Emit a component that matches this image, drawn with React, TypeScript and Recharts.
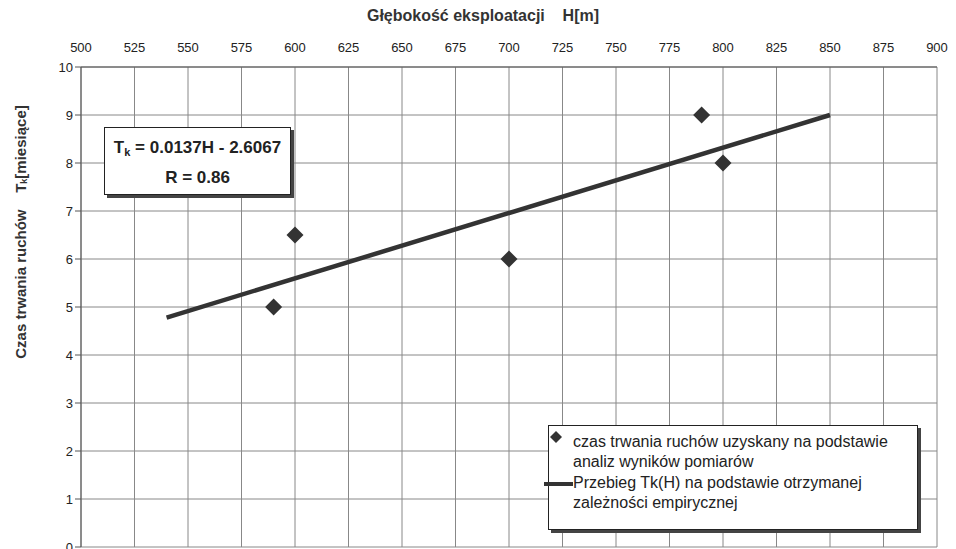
import { CartesianGrid, Legend, Scatter, ScatterChart, XAxis, YAxis } from "recharts";

// measured points: depth H [m] vs duration Tk [months]
const depth = [590, 600, 700, 790, 800];
const duration = [5, 6.5, 6, 9, 8];

// ends of the fitted line Tk = 0.0137H - 2.6067
const fitDepth = [540, 850];
const fitDuration = [4.78, 9.0];

const xTicks = [500, 525, 550, 575, 600, 625, 650, 675, 700, 725, 750, 775, 800, 825, 850, 875, 900];
const yTicks = [0, 1, 2, 3, 4, 5, 6, 7, 8, 9, 10];

const measured = depth.map((h, i) => ({ H: h, T: duration[i] }));
const fitLine = fitDepth.map((h, i) => ({ H: h, T: fitDuration[i] }));

const font = "'Liberation Sans', Arial, sans-serif";
const dark = "#333";

const Diamond = (props: any) => {
  const { cx, cy } = props;
  const r = 8.5;
  return <path d={`M${cx},${cy - r}L${cx + r},${cy}L${cx},${cy + r}L${cx - r},${cy}Z`} fill={dark} />;
};

const NoShape = () => <g />;

const YLabel = () => (
  <text
    x={22}
    y={232}
    transform="rotate(-90 22 232)"
    textAnchor="middle"
    dominantBaseline="middle"
    fontFamily={font}
    fontWeight="bold"
    fontSize={15}
    fill={dark}
  >
    Czas trwania ruchów{"\u00a0\u00a0\u00a0\u00a0"}T
    <tspan fontSize={9} dy={3}>k</tspan>
    <tspan dy={-3}>[miesiące]</tspan>
  </text>
);

const XLabel = () => (
  <text x={483} y={17} textAnchor="middle" dominantBaseline="middle" fontFamily={font} fontWeight="bold" fontSize={16} fill={dark}>
    Głębokość eksploatacji{"\u00a0\u00a0\u00a0\u00a0"}H[m]
  </text>
);

const LegendBox = () => (
  <div
    style={{
      position: "relative",
      width: 370,
      height: 105,
      border: "1px solid #222",
      boxShadow: "3px 3px 0 #444",
      background: "#fff",
      fontFamily: font,
      fontSize: 16,
      lineHeight: "20px",
      color: "#222",
      boxSizing: "border-box",
    }}
  >
    <svg style={{ position: "absolute", left: 0, top: 3, overflow: "visible" }} width={20} height={20}>
      <path d="M7,2L13,8L7,14L1,8Z" fill={dark} />
    </svg>
    <div style={{ position: "absolute", left: 24, top: 6, whiteSpace: "nowrap" }}>
      czas trwania ruchów uzyskany na podstawie
      <br />
      analiz wyników pomiarów
    </div>
    <div style={{ position: "absolute", left: -5, top: 56, width: 29, height: 4, background: dark }} />
    <div style={{ position: "absolute", left: 24, top: 47, whiteSpace: "nowrap" }}>
      Przebieg Tk(H) na podstawie otrzymanej
      <br />
      zależności empirycznej
    </div>
  </div>
);

export default function App() {
  return (
    <div style={{ position: "absolute", left: 0, top: 0, width: 956, height: 549, background: "#fff" }}>
      <ScatterChart width={956} height={549} margin={{ top: 17, right: 19, bottom: 2, left: 0 }}>
        <CartesianGrid stroke="#888" strokeWidth={1} />
        <XAxis
          type="number"
          dataKey="H"
          orientation="top"
          domain={[500, 900]}
          ticks={xTicks}
          interval={0}
          height={50}
          tickLine={false}
          tickSize={13}
          axisLine={{ stroke: "#555" }}
          tick={{ fontFamily: font, fontSize: 13, fill: "#222" }}
          label={<XLabel />}
        />
        <YAxis
          type="number"
          dataKey="T"
          domain={[0, 10]}
          ticks={yTicks}
          interval={0}
          width={81}
          tickSize={6}
          tickLine={{ stroke: "#555" }}
          axisLine={{ stroke: "#555" }}
          tick={{ fontFamily: font, fontSize: 13, fill: "#222" }}
          label={<YLabel />}
        />
        <Scatter
          name="czas trwania ruchów uzyskany na podstawie analiz wyników pomiarów"
          data={measured}
          shape={<Diamond />}
          isAnimationActive={false}
        />
        <Scatter
          name="Przebieg Tk(H) na podstawie otrzymanej zależności empirycznej"
          data={fitLine}
          line={{ stroke: dark, strokeWidth: 4.5 }}
          shape={<NoShape />}
          isAnimationActive={false}
        />
        <Legend
          layout="vertical"
          align="center"
          verticalAlign="middle"
          content={<LegendBox />}
          wrapperStyle={{ left: 548, top: 425, width: 370, height: 105 }}
        />
      </ScatterChart>
      <div
        style={{
          position: "absolute",
          left: 104,
          top: 127,
          width: 187,
          height: 68,
          boxSizing: "border-box",
          border: "1px solid #222",
          boxShadow: "3px 3px 0 #444",
          background: "#fff",
          fontFamily: font,
          fontWeight: "bold",
          fontSize: 17,
          color: "#222",
          textAlign: "center",
          lineHeight: "26px",
          paddingTop: 7,
        }}
      >
        <div>
          T<sub style={{ fontSize: 11, verticalAlign: -3 }}>k</sub> = 0.0137H - 2.6067
        </div>
        <div>R = 0.86</div>
      </div>
    </div>
  );
}
